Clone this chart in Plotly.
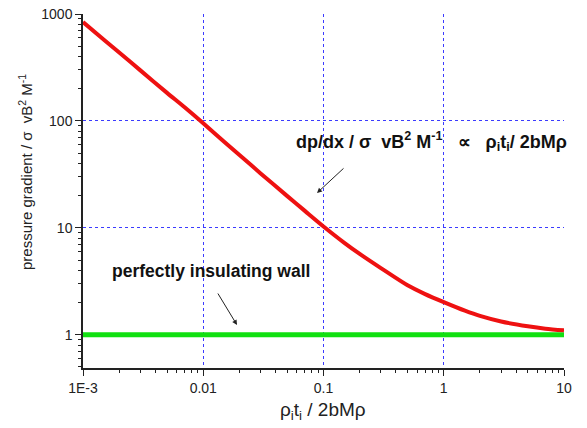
import plotly.graph_objects as go

# data
x_red = [0.001, 0.0015, 0.002, 0.003, 0.005, 0.007, 0.01, 0.015, 0.02, 0.03, 0.05, 0.07,
         0.1, 0.15, 0.2, 0.3, 0.5, 0.7, 1, 1.5, 2, 3, 5, 7, 10]
y_red = [840, 572, 436, 297, 183, 134, 95, 63.5, 48, 32.3, 19.8, 14.4,
         10.3, 7.2, 5.7, 4.2, 2.9, 2.4, 2.02, 1.68, 1.5, 1.33, 1.2, 1.14, 1.1]
x_green = [0.001, 10]
y_green = [1, 1]

x_ticks = [0.001, 0.01, 0.1, 1, 10]
x_labels = ["1E-3", "0.01", "0.1", "1", "10"]
y_ticks = [1, 10, 100, 1000]
y_labels = ["1", "10", "100", "1000"]

x_minor = [m * d for d in [0.001, 0.01, 0.1, 1] for m in range(2, 10)]
y_minor = [m * d for d in [0.1, 1, 10, 100] for m in range(2, 10)]

FONT = "Liberation Sans, Arial, sans-serif"

fig = go.Figure()
fig.add_trace(go.Scatter(x=x_green, y=y_green, mode="lines",
                         line=dict(color="#11e011", width=5), showlegend=False))
fig.add_trace(go.Scatter(x=x_red, y=y_red, mode="lines", line_shape="spline",
                         line=dict(color="#ee1111", width=4, smoothing=0.8), showlegend=False))

axis_common = dict(type="log", showline=True, linecolor="#222", linewidth=1.5,
                   ticks="outside", tickcolor="#222", ticklen=6, tickwidth=1.2,
                   tickfont=dict(family=FONT, size=14, color="#222"),
                   zeroline=False, mirror=False, automargin=False,
                   showgrid=True, gridcolor="#3b3bff", griddash="dot", gridwidth=1)

fig.update_xaxes(range=[-3, 1], tickvals=x_ticks, ticktext=x_labels,
                 minor=dict(tickvals=x_minor, ticks="outside", ticklen=3, tickcolor="#222", showgrid=False),
                 **axis_common)
fig.update_yaxes(range=[-0.311, 3], tickvals=y_ticks, ticktext=y_labels,
                 minor=dict(tickvals=y_minor, ticks="outside", ticklen=3, tickcolor="#222", showgrid=False),
                 **axis_common)

def px(xp):
    return (xp - 83) / 481

def py(yp):
    return (368 - yp) / 354

# axis titles
fig.add_annotation(
    xref="x domain", yref="y domain", x=px(323), y=py(411), xanchor="center", yanchor="middle",
    text="ρ<sub>i</sub>t<sub>i</sub> / 2bMρ", showarrow=False,
    font=dict(family=FONT, size=19, color="#222"))
fig.add_annotation(
    xref="x domain", yref="y domain", x=px(25), y=py(172), xanchor="center", yanchor="middle",
    text="pressure gradient / σ  vB<sup>2</sup> M<sup>-1</sup>", textangle=-90, showarrow=False,
    font=dict(family=FONT, size=15, color="#222"))

fig.add_annotation(
    xref="x domain", yref="y domain", x=px(431), y=py(141), xanchor="center", yanchor="middle",
    text="<b>dp/dx / σ  vB<sup>2</sup> M<sup>-1</sup>   ∝   ρ<sub>i</sub>t<sub>i</sub>/ 2bMρ</b>",
    showarrow=False, font=dict(family=FONT, size=18, color="#111"))
fig.add_annotation(
    xref="x domain", yref="y domain", x=px(317), y=py(193),
    axref="x domain", ayref="y domain", ax=px(345), ay=py(167),
    text="", showarrow=True, arrowhead=2, arrowsize=1, arrowwidth=1, arrowcolor="#222")
fig.add_annotation(
    xref="x domain", yref="y domain", x=px(211), y=py(271), xanchor="center", yanchor="middle",
    text="<b>perfectly insulating wall</b>",
    showarrow=False, font=dict(family=FONT, size=17.5, color="#111"))
fig.add_annotation(
    xref="x domain", yref="y domain", x=px(237), y=py(325),
    axref="x domain", ayref="y domain", ax=px(217), ay=py(292),
    text="", showarrow=True, arrowhead=2, arrowsize=1, arrowwidth=1, arrowcolor="#222")

fig.update_layout(width=587, height=428, margin=dict(l=83, r=23, t=14, b=60),
                  plot_bgcolor="white", paper_bgcolor="white", showlegend=False)

fig.write_html("out.html", config={"displayModeBar": False},
               post_script="document.body.style.margin='0px';")
